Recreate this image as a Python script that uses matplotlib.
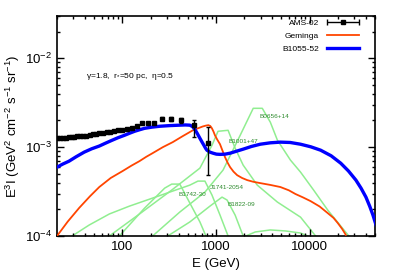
import numpy as np
import matplotlib
matplotlib.use("Agg")
import matplotlib.pyplot as plt
from matplotlib.legend_handler import HandlerErrorbar
from matplotlib.ticker import LogLocator, NullFormatter, FixedLocator, FixedFormatter

plt.rcParams['font.family'] = ['Liberation Sans', 'DejaVu Sans']
plt.rcParams['mathtext.default'] = 'regular'

# ---------------- data ----------------
ams_E = [20.0, 21.5, 23.1, 24.8, 26.6, 28.6, 30.7, 33.0, 35.5, 38.2, 41.2, 44.5, 48.2,
         52.3, 56.9, 62.0, 67.8, 74.4, 81.9, 90.5, 100, 112, 126, 143, 163, 188, 220,
         262, 330, 425, 585, 830]
ams_F = [1.26e-3, 1.27e-3, 1.27e-3, 1.28e-3, 1.29e-3, 1.30e-3, 1.31e-3, 1.32e-3, 1.33e-3,
         1.34e-3, 1.35e-3, 1.37e-3, 1.39e-3, 1.41e-3, 1.44e-3, 1.45e-3, 1.47e-3, 1.50e-3,
         1.53e-3, 1.55e-3, 1.58e-3, 1.62e-3, 1.66e-3, 1.72e-3, 1.85e-3, 1.86e-3, 1.88e-3,
         2.10e-3, 2.06e-3, 2.01e-3, 1.77e-3, 1.12e-3]
ams_err_lo = [2e-5] * 20 + [3e-5] * 6 + [5e-5, 8e-5, 1.0e-4, 1.4e-4, 4.6e-4, 6.4e-4]
ams_err_hi = [2e-5] * 20 + [3e-5] * 6 + [5e-5, 8e-5, 1.0e-4, 1.4e-4, 2.4e-4, 5.7e-4]

geminga_E = [20, 26, 34.5, 45, 56.6, 75, 100, 125, 152, 180, 210, 270, 345, 440, 566, 650,
             720, 780, 830, 870, 905, 940, 975, 1030, 1104, 1180, 1250, 1330, 1415, 1540,
             1683, 1900, 2154, 2500, 2972, 3800, 4874, 6000, 7066, 8500, 10250, 12800,
             15630, 18000, 20000, 22300, 24380]
geminga_F = [1.0e-4, 1.45e-4, 2.07e-4, 2.8e-4, 3.56e-4, 4.5e-4, 5.37e-4, 6.2e-4, 6.96e-4,
             7.8e-4, 8.56e-4, 1.0e-3, 1.14e-3, 1.33e-3, 1.55e-3, 1.64e-3, 1.71e-3, 1.75e-3,
             1.77e-3, 1.73e-3, 1.63e-3, 1.50e-3, 1.36e-3, 1.22e-3, 1.08e-3, 9.0e-4, 7.7e-4,
             6.7e-4, 5.96e-4, 5.3e-4, 4.84e-4, 4.5e-4, 4.26e-4, 4.08e-4, 3.94e-4, 3.76e-4,
             3.56e-4, 3.27e-4, 2.97e-4, 2.72e-4, 2.47e-4, 2.15e-4, 1.81e-4, 1.6e-4, 1.4e-4,
             1.2e-4, 1.03e-4]

b1055_E = [20.0, 23, 26.9, 32, 39.0, 47, 56.6, 66, 78, 90, 105, 120, 135, 152, 172, 205,
           250, 320, 410, 470, 525, 560, 594, 630, 673, 710, 743, 775, 800, 860, 929, 1010,
           1104, 1250, 1415, 1650, 1951, 2400, 2972, 3800, 4874, 6200, 8000, 10300, 13120,
           17000, 21530, 26000, 31250, 35500, 40000, 44000, 47550, 51300]
b1055_F = [5.96e-4, 6.45e-4, 6.96e-4, 7.8e-4, 8.79e-4, 9.6e-4, 1.03e-3, 1.11e-3, 1.2e-3,
           1.28e-3, 1.36e-3, 1.44e-3, 1.51e-3, 1.57e-3, 1.63e-3, 1.68e-3, 1.72e-3, 1.75e-3,
           1.77e-3, 1.78e-3, 1.77e-3, 1.71e-3, 1.59e-3, 1.43e-3, 1.26e-3, 1.14e-3, 1.05e-3,
           9.7e-4, 9.25e-4, 8.8e-4, 8.56e-4, 8.35e-4, 8.3e-4, 8.35e-4, 8.56e-4, 9.0e-4,
           9.5e-4, 1.02e-3, 1.08e-3, 1.12e-3, 1.14e-3, 1.13e-3, 1.08e-3, 1.01e-3, 9.25e-4,
           8.0e-4, 6.6e-4, 5.4e-4, 4.26e-4, 3.45e-4, 2.74e-4, 2.15e-4, 1.72e-4, 1.33e-4]

# other pulsars (green)
b0656_E = [210.2, 410.2, 761.6, 1189, 1812, 2499, 3123, 3808, 4529, 6247, 8004, 11040, 15620, 26270]
b0656_F = [1.0e-4, 1.86e-4, 3.12e-4, 5.52e-4, 1.36e-3, 2.74e-3, 2.74e-3, 1.91e-3, 1.2e-3,
           7.15e-4, 5.24e-4, 3.29e-4, 1.96e-4, 1.0e-4]
b1001_E = [72.5, 152.3, 336.4, 673.0, 905.7, 1051, 1346, 1601, 1951, 2760, 4529, 8004, 11600]
b1001_F = [1.0e-4, 1.77e-4, 3.29e-4, 5.81e-4, 1.05e-3, 1.51e-3, 1.55e-3, 9.75e-4, 6.28e-4,
           3.74e-4, 2.41e-4, 1.63e-4, 1.0e-4]
j1741_E = [29.0, 44.2, 72.5, 118.9, 195.1, 320.2, 525.4, 640.6, 761.6, 905.7, 1104, 1346]
j1741_F = [1.0e-4, 1.33e-4, 1.77e-4, 2.17e-4, 2.60e-4, 3.12e-4, 3.74e-4, 4.15e-4, 4.15e-4,
           2.89e-4, 1.72e-4, 1.0e-4]
b1742_E = [92.8, 172.4, 282.9, 336.4, 410.2, 525.4, 673.0, 780.7]
b1742_F = [1.0e-4, 2.06e-4, 3.46e-4, 3.84e-4, 3.84e-4, 2.35e-4, 1.44e-4, 1.0e-4]
b1822_E = [304.8, 525.4, 862.0, 1160, 1313, 1601, 1951]
b1822_F = [1.0e-4, 1.44e-4, 2.17e-4, 2.74e-4, 2.54e-4, 1.72e-4, 1.0e-4]
extra_E = [1850, 2627, 3808, 5520, 8004, 10800]
extra_F = [9.5e-5, 1.11e-4, 1.17e-4, 1.14e-4, 1.08e-4, 9.5e-5]

green_labels = ['B0656+14', 'B1001+47', 'J1741-2054', 'B1742-30', 'B1822-09']
green_label_E = [2950, 1360, 870, 400, 1320]
green_label_F = [2.2e-3, 1.15e-3, 3.5e-4, 2.97e-4, 2.25e-4]

x_ticks = [100, 1000, 10000]
x_ticklabels = ['100', '1000', '10000']
y_ticks = [1e-4, 1e-3, 1e-2]
y_ticklabels = ['$10^{-4}$', '$10^{-3}$', '$10^{-2}$']

# ---------------- figure ----------------
fig = plt.figure(figsize=(3.99, 2.79), dpi=100)
ax = fig.add_axes([57/399, 1-236/279, (375-57)/399, (236-16)/279])
ax.set_xscale('log')
ax.set_yscale('log')

gcol = '#90ee90'
for E, F in [(b0656_E, b0656_F), (b1001_E, b1001_F), (j1741_E, j1741_F),
             (b1742_E, b1742_F), (b1822_E, b1822_F), (extra_E, extra_F)]:
    ax.plot(E, F, color=gcol, lw=1.1, zorder=1, solid_joinstyle='round')
for lab, e, f in zip(green_labels, green_label_E, green_label_F):
    ax.text(e, f, lab, fontsize=4.6, color='#2e8b2e', ha='left', va='center', zorder=2)

ax.plot(geminga_E, geminga_F, color='#ff4500', lw=1.3, zorder=3, label='Geminga',
        solid_joinstyle='round')
ax.plot(b1055_E, b1055_F, color='#0000ff', lw=2.4, zorder=4, label='B1055-52',
        solid_joinstyle='round')
ax.errorbar(ams_E, ams_F, yerr=[ams_err_lo, ams_err_hi], fmt='s', color='black',
            ms=3.3, elinewidth=1.0, capsize=1.5, zorder=5)
proxy = ax.errorbar([np.nan], [np.nan], xerr=[1.0], fmt='s', color='black', ms=3.3,
                    elinewidth=1.0, capsize=2, label='AMS-02')

ax.set_xlim(20, 5e4)
ax.set_ylim(1e-4, 3e-2)

ax.xaxis.set_major_locator(FixedLocator(x_ticks))
ax.xaxis.set_major_formatter(FixedFormatter(x_ticklabels))
ax.yaxis.set_major_locator(FixedLocator(y_ticks))
ax.yaxis.set_major_formatter(FixedFormatter(y_ticklabels))
ax.xaxis.set_minor_locator(LogLocator(base=10, subs=np.arange(2, 10), numticks=20))
ax.yaxis.set_minor_locator(LogLocator(base=10, subs=np.arange(2, 10), numticks=20))
ax.xaxis.set_minor_formatter(NullFormatter())
ax.yaxis.set_minor_formatter(NullFormatter())
ax.tick_params(which='both', direction='in', top=True, right=True, labelsize=9.5, width=1.0)
ax.tick_params(which='major', length=5)
ax.tick_params(which='minor', length=2.5)
for s in ax.spines.values():
    s.set_linewidth(1.2)

ax.set_xlabel('E (GeV)', fontsize=9.5, labelpad=4)
ax.set_ylabel('E$^3$I (GeV$^2$ cm$^{-2}$ s$^{-1}$ sr$^{-1}$)', fontsize=9.5, labelpad=2)

ax.text(0.09, 0.725, 'γ=1.8,  r$_{*}$=50 pc,  η=0.5', transform=ax.transAxes,
        fontsize=6, ha='left', va='center')

handles, labels = ax.get_legend_handles_labels()
order = [labels.index('AMS-02'), labels.index('Geminga'), labels.index('B1055-52')]
leg = ax.legend([handles[i] for i in order], [labels[i] for i in order],
                loc='upper right', bbox_to_anchor=(0.95, 0.985), frameon=False,
                markerfirst=False, fontsize=6, handlelength=3.8, handletextpad=1.0,
                labelspacing=0.62, borderpad=0, borderaxespad=0,
                handler_map={type(proxy): HandlerErrorbar(xerr_size=1.9)})

fig.savefig('out.png', dpi=100)
